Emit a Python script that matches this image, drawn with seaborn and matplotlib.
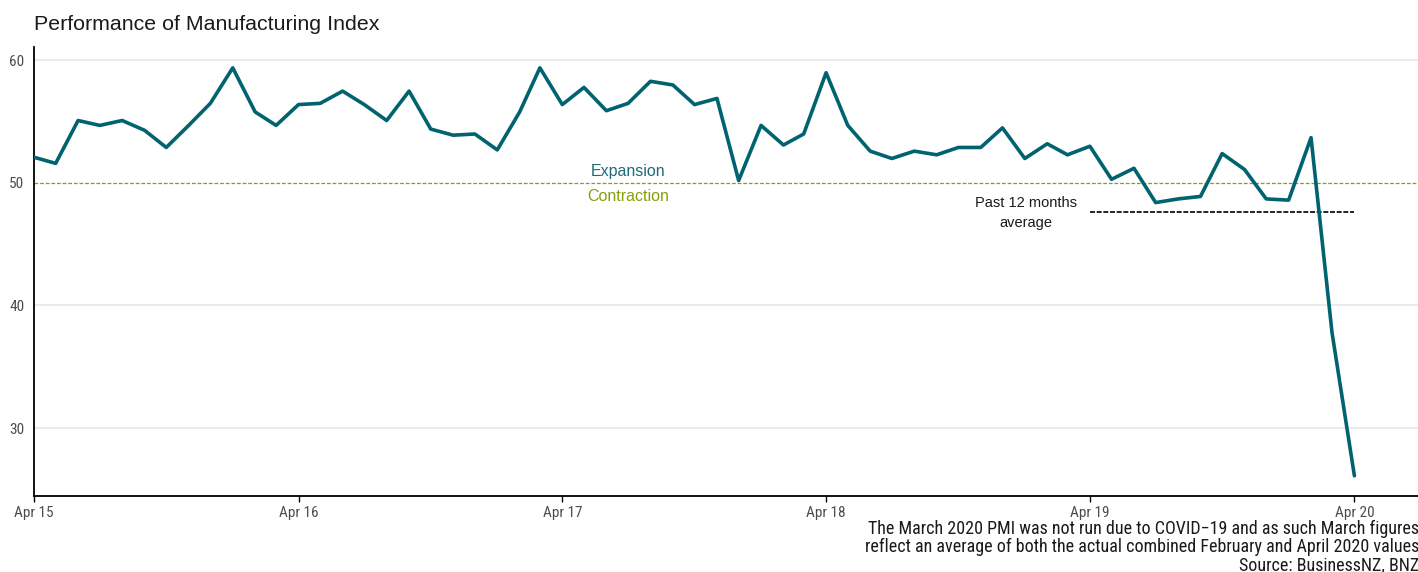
import numpy as np
import pandas as pd
import matplotlib
matplotlib.use("Agg")
import matplotlib.pyplot as plt
import matplotlib.dates as mdates
from matplotlib import font_manager
import seaborn as sns

# ---- data ----
months = pd.date_range("2015-04-01", periods=61, freq="MS")
pmi = [52.1, 51.6, 55.1, 54.7, 55.1, 54.3, 52.9, 54.7, 56.5, 59.4, 55.8, 54.7,
       56.4, 56.5, 57.5, 56.4, 55.1, 57.5, 54.4, 53.9, 54.0, 52.7, 55.8, 59.4,
       56.4, 57.8, 55.9, 56.5, 58.3, 58.0, 56.4, 56.9, 50.2, 54.7, 53.1, 54.0,
       59.0, 54.7, 52.6, 52.0, 52.6, 52.3, 52.9, 52.9, 54.5, 52.0, 53.2, 52.3,
       53.0, 50.3, 51.2, 48.4, 48.7, 48.9, 52.4, 51.1, 48.7, 48.6, 53.7, 37.8,
       26.1]
avg_12m = 47.6
avg_start, avg_end = "2019-04-01", "2020-04-01"
threshold = 50
y_ticks = [30, 40, 60]
tick_dates = pd.date_range("2015-04-01", periods=6, freq="12MS")
title = "Performance of Manufacturing Index"
caption = ("The March 2020 PMI was not run due to COVID\u221219 and as such March figures\n"
           "reflect an average of both the actual combined February and April 2020 values\n"
           "Source: BusinessNZ, BNZ")

df = pd.DataFrame({"month": months, "pmi": pmi})

sns.set_theme(style="white")
plt.rcParams["font.family"] = ["Liberation Sans", "DejaVu Sans"]

installed = {f.name for f in font_manager.fontManager.ttflist}
narrow = None
for cand in ["Liberation Sans Narrow", "DejaVu Sans Condensed", "Roboto Condensed", "Open Sans Condensed"]:
    if cand in installed:
        narrow = cand
        break
narrow_family = [narrow, "Liberation Sans"] if narrow else ["Liberation Sans"]
tick_size = 11 if narrow else 10.5
cap_size = 13 if narrow else 12

teal = "#00636F"
olive = "#8A9E0A"

fig = plt.figure(figsize=(14.18, 5.72), dpi=100)
ax = fig.add_axes([34/1418, 1 - 496/572, 1 - 34/1418, (496 - 47)/572])

for yv in y_ticks:
    ax.axhline(yv, color="#E6E6E6", lw=1.2, zorder=0)
ax.axhline(threshold, color=olive, lw=0.9, ls=(0, (3, 1.5)), zorder=1)

sns.lineplot(data=df, x="month", y="pmi", color=teal, lw=2.6, ax=ax, zorder=3)

ax.plot(pd.to_datetime([avg_start, avg_end]), [avg_12m, avg_12m],
        color="black", lw=1.2, ls=(0, (3, 1)), zorder=2)

ax.text(pd.Timestamp("2019-01-02"), avg_12m - 0.05,
        "Past 12 months\naverage", ha="center", va="center",
        fontsize=10.5, color="#1a1a1a", linespacing=1.5)

ax.text(pd.Timestamp("2017-07-01"), 50.9, "Expansion", ha="center", va="center",
        fontsize=11.5, color="#1E6B78")
ax.text(pd.Timestamp("2017-07-01"), 48.9, "Contraction", ha="center", va="center",
        fontsize=11.5, color=olive)

ax.set_xlim(pd.Timestamp("2015-04-01"), pd.Timestamp("2020-06-28"))
ax.set_ylim(24.45, 61.1)
ax.set_yticks(y_ticks + [50])
ax.set_xticks(tick_dates)
ax.xaxis.set_major_formatter(mdates.DateFormatter("%b %y"))
ax.tick_params(axis="x", length=4, width=1, color="black", labelsize=tick_size,
               labelcolor="#4d4d4d", pad=3, bottom=True)
ax.tick_params(axis="y", length=0, labelsize=tick_size, labelcolor="#4d4d4d", pad=7, left=False)
for lab in ax.get_xticklabels() + ax.get_yticklabels():
    lab.set_family(narrow_family)
ax.set_xlabel("")
ax.set_ylabel("")
ax.grid(False)
for s in ["top", "right"]:
    ax.spines[s].set_visible(False)
for s in ["left", "bottom"]:
    ax.spines[s].set_color("black")
    ax.spines[s].set_linewidth(1.3)

fig.text(34/1418, 1 - 25/572, title, ha="left", va="center", fontsize=15.4, color="#1a1a1a")
fig.text(1419/1418, 1 - 547/572, caption, ha="right", va="center", fontsize=cap_size,
         color="#1a1a1a", linespacing=1.0, family=narrow_family)

fig.savefig("out.png", dpi=100)
